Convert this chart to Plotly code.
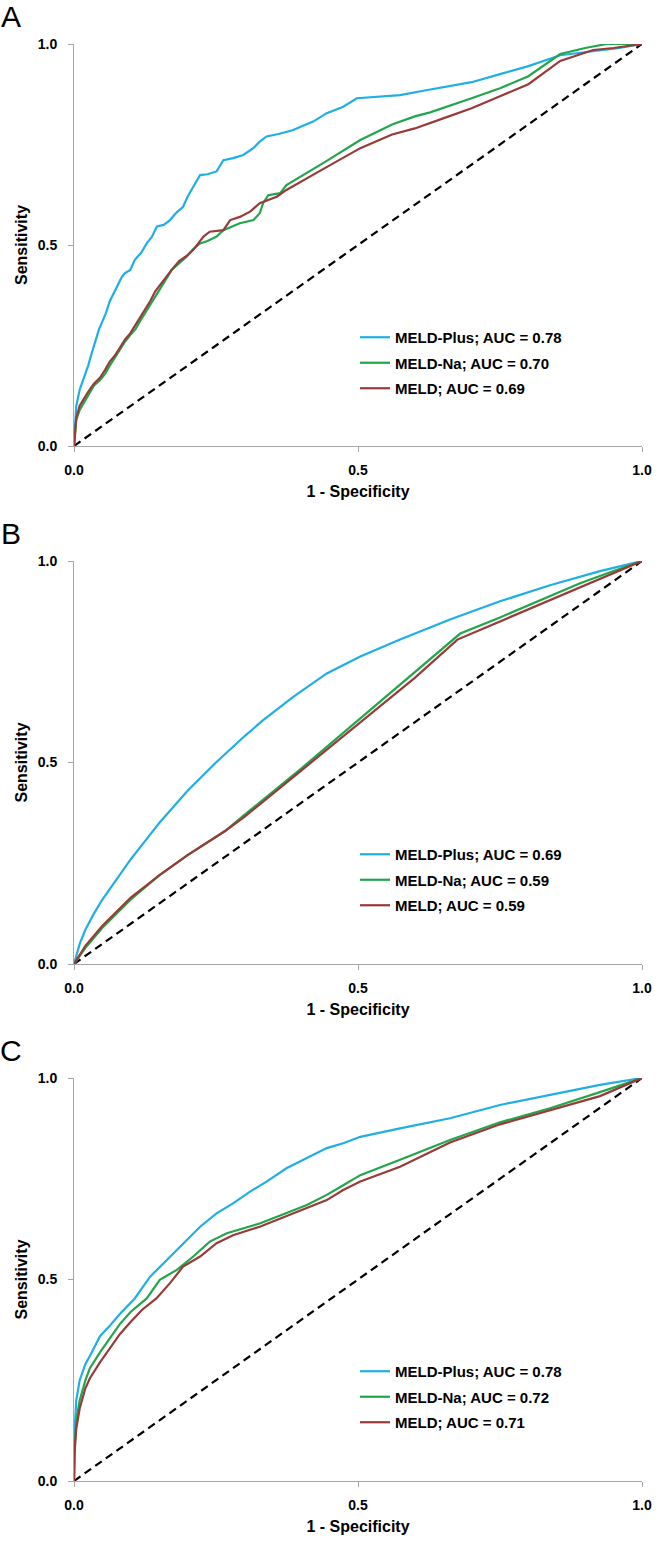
import plotly.graph_objects as go

# ---------------- data ----------------
labels = ["MELD-Plus; AUC = 0.78", "MELD-Na; AUC = 0.70", "MELD; AUC = 0.69"]
labels_b = ["MELD-Plus; AUC = 0.69", "MELD-Na; AUC = 0.59", "MELD; AUC = 0.59"]
labels_c = ["MELD-Plus; AUC = 0.78", "MELD-Na; AUC = 0.72", "MELD; AUC = 0.71"]
panel_letters = ["A", "B", "C"]
diag = [0, 1]
tick_vals = [0, 0.5, 1]
tick_text = ["0.0", "0.5", "1.0"]

# Panel A
a_plus_x = [0, 0.002, 0.004, 0.01, 0.018, 0.025, 0.031, 0.037, 0.044, 0.05, 0.056, 0.063, 0.07, 0.077, 0.084,
            0.09, 0.099, 0.107, 0.118, 0.128, 0.137, 0.146, 0.158, 0.169, 0.18, 0.192, 0.2, 0.21, 0.222,
            0.235, 0.251, 0.263, 0.28, 0.298, 0.315, 0.327, 0.339, 0.36, 0.386, 0.4, 0.421, 0.445, 0.474,
            0.498, 0.53, 0.574, 0.62, 0.662, 0.7, 0.75, 0.8, 0.856, 0.914, 0.96, 1]
a_plus_y = [0, 0.06, 0.10, 0.14, 0.17, 0.20, 0.23, 0.26, 0.29, 0.31, 0.33, 0.36, 0.38, 0.40, 0.42,
            0.43, 0.438, 0.463, 0.48, 0.504, 0.52, 0.546, 0.55, 0.562, 0.58, 0.595, 0.62, 0.645, 0.674,
            0.676, 0.683, 0.711, 0.716, 0.724, 0.74, 0.757, 0.77, 0.776, 0.786, 0.795, 0.807, 0.828, 0.844,
            0.865, 0.868, 0.873, 0.885, 0.895, 0.905, 0.925, 0.945, 0.972, 0.982, 0.99, 1]
a_na_x = [0, 0.002, 0.004, 0.01, 0.018, 0.025, 0.035, 0.046, 0.055, 0.063, 0.072, 0.081, 0.09, 0.099, 0.108,
          0.116, 0.125, 0.134, 0.143, 0.151, 0.16, 0.172, 0.185, 0.198, 0.21, 0.222, 0.235, 0.251, 0.263,
          0.278, 0.292, 0.316, 0.327, 0.333, 0.342, 0.363, 0.374, 0.44, 0.504, 0.56, 0.6, 0.627, 0.66,
          0.7, 0.75, 0.8, 0.856, 0.9, 0.938, 1]
a_na_y = [0, 0.04, 0.065, 0.09, 0.11, 0.127, 0.15, 0.164, 0.18, 0.2, 0.22, 0.24, 0.26, 0.276, 0.29,
          0.31, 0.33, 0.35, 0.37, 0.39, 0.41, 0.438, 0.455, 0.471, 0.49, 0.504, 0.51, 0.521, 0.537,
          0.545, 0.554, 0.562, 0.579, 0.604, 0.624, 0.629, 0.649, 0.705, 0.761, 0.8, 0.82, 0.83, 0.845,
          0.865, 0.89, 0.92, 0.975, 0.99, 1.0, 1]
a_meld_x = [0, 0.002, 0.004, 0.01, 0.018, 0.025, 0.035, 0.046, 0.055, 0.063, 0.072, 0.081, 0.09, 0.099,
            0.108, 0.116, 0.125, 0.134, 0.143, 0.151, 0.16, 0.172, 0.185, 0.2, 0.21, 0.228, 0.239, 0.263,
            0.275, 0.292, 0.31, 0.327, 0.357, 0.374, 0.44, 0.504, 0.56, 0.6, 0.65, 0.7, 0.75, 0.8, 0.856,
            0.914, 0.95, 0.979, 1]
a_meld_y = [0, 0.05, 0.07, 0.10, 0.12, 0.135, 0.155, 0.17, 0.19, 0.21, 0.225, 0.245, 0.265, 0.28,
            0.3, 0.32, 0.34, 0.36, 0.385, 0.4, 0.415, 0.438, 0.46, 0.475, 0.488, 0.521, 0.533, 0.537,
            0.562, 0.57, 0.583, 0.604, 0.62, 0.637, 0.69, 0.741, 0.775, 0.79, 0.815, 0.84, 0.87, 0.9, 0.958,
            0.985, 0.99, 0.995, 1]

# Panel B
b_plus_x = [0, 0.01, 0.02, 0.035, 0.05, 0.075, 0.1, 0.125, 0.15, 0.2, 0.25, 0.3, 0.333, 0.386, 0.445,
            0.504, 0.574, 0.662, 0.75, 0.838, 0.926, 1]
b_plus_y = [0, 0.05, 0.085, 0.125, 0.16, 0.21, 0.26, 0.305, 0.35, 0.43, 0.5, 0.565, 0.605, 0.663, 0.721,
            0.763, 0.805, 0.855, 0.9, 0.94, 0.975, 1]
b_na_x = [0, 0.02, 0.05, 0.1, 0.15, 0.2, 0.266, 0.3, 0.4, 0.5, 0.6, 0.68, 0.75, 0.8, 0.891, 0.95, 1]
b_na_y = [0, 0.04, 0.09, 0.16, 0.22, 0.27, 0.33, 0.37, 0.485, 0.605, 0.725, 0.82, 0.86, 0.89, 0.945, 0.975, 1]
b_meld_x = [0, 0.02, 0.05, 0.1, 0.15, 0.2, 0.266, 0.3, 0.4, 0.5, 0.6, 0.675, 0.75, 0.8, 0.891, 0.95, 1]
b_meld_y = [0, 0.045, 0.095, 0.165, 0.22, 0.27, 0.33, 0.365, 0.48, 0.595, 0.71, 0.805, 0.85, 0.88, 0.935, 0.97, 1]

# Panel C
c_plus_x = [0, 0.001, 0.004, 0.01, 0.02, 0.028, 0.046, 0.063, 0.081, 0.095, 0.107, 0.134, 0.163, 0.198,
            0.222, 0.251, 0.28, 0.31, 0.339, 0.374, 0.41, 0.445, 0.474, 0.504, 0.574, 0.662, 0.75, 0.838,
            0.926, 1]
c_plus_y = [0, 0.12, 0.2, 0.25, 0.29, 0.31, 0.36, 0.385, 0.415, 0.435, 0.453, 0.507, 0.548, 0.598,
            0.631, 0.664, 0.689, 0.718, 0.743, 0.776, 0.801, 0.826, 0.838, 0.854, 0.875, 0.9, 0.933, 0.958,
            0.983, 1]
c_na_x = [0, 0.001, 0.004, 0.01, 0.02, 0.028, 0.046, 0.063, 0.081, 0.1, 0.128, 0.151, 0.181, 0.21, 0.239,
          0.269, 0.327, 0.41, 0.445, 0.474, 0.504, 0.574, 0.662, 0.75, 0.838, 0.926, 1]
c_na_y = [0, 0.08, 0.15, 0.2, 0.25, 0.28, 0.32, 0.355, 0.39, 0.42, 0.453, 0.499, 0.524, 0.557, 0.594,
          0.615, 0.639, 0.685, 0.71, 0.734, 0.759, 0.797, 0.846, 0.89, 0.925, 0.965, 1]
c_meld_x = [0, 0.001, 0.004, 0.01, 0.02, 0.028, 0.046, 0.063, 0.081, 0.1, 0.12, 0.145, 0.169, 0.192, 0.222,
            0.251, 0.28, 0.327, 0.41, 0.445, 0.474, 0.504, 0.574, 0.662, 0.75, 0.838, 0.926, 1]
c_meld_y = [0, 0.07, 0.13, 0.18, 0.23, 0.255, 0.295, 0.33, 0.365, 0.395, 0.425, 0.453, 0.491, 0.532, 0.557,
            0.59, 0.61, 0.631, 0.677, 0.697, 0.722, 0.743, 0.78, 0.84, 0.885, 0.92, 0.955, 1]

# ---------------- styling ----------------
W, H = 662, 1543
ML, MR, MT, MB = 74, 20, 44, 62
PH = H - MT - MB
FONT = "Liberation Sans, Arial, sans-serif"
colors = ["#1FAEE6", "#21A64B", "#983A38"]
panels_px = [(44, 446), (561, 964), (1078, 1481)]


def py(ypx):
    return (H - MB - ypx) / PH


def pxx(xpx):
    return (xpx - ML) / (W - ML - MR)


fig = go.Figure()
series = [
    (labels, [(a_plus_x, a_plus_y), (a_na_x, a_na_y), (a_meld_x, a_meld_y)]),
    (labels_b, [(b_plus_x, b_plus_y), (b_na_x, b_na_y), (b_meld_x, b_meld_y)]),
    (labels_c, [(c_plus_x, c_plus_y), (c_na_x, c_na_y), (c_meld_x, c_meld_y)]),
]

layout_axes = {}
for i, (labs, curves) in enumerate(series):
    n = "" if i == 0 else str(i + 1)
    xa, ya = "x" + n, "y" + n
    leg = "legend" + n
    fig.add_trace(go.Scatter(x=diag, y=diag, mode="lines", xaxis=xa, yaxis=ya, showlegend=False,
                             line=dict(color="black", width=2.2, dash="8px,5px"), hoverinfo="skip"))
    for j, ((xs, ys), lab) in enumerate(zip(curves, labs)):
        fig.add_trace(go.Scatter(x=xs, y=ys, mode="lines", name=lab, xaxis=xa, yaxis=ya,
                                 legend=leg, legendgroup=f"g{i}{j}",
                                 line=dict(color=colors[j], width=2.2)))
    top, bot = panels_px[i]
    axfont = dict(family=FONT, size=14, color="black", weight="bold")
    layout_axes["xaxis" + n] = dict(
        domain=[0, 1], anchor=ya, range=[0, 1], tickvals=tick_vals, ticktext=tick_text,
        showgrid=False, zeroline=False, showline=True, linecolor="#A6A6A6", linewidth=1,
        ticks="outside", ticklen=5, tickcolor="#A6A6A6", tickfont=axfont, ticklabelstandoff=6,
        title=dict(text="1 - Specificity", font=dict(family=FONT, size=16, color="black", weight="bold"),
                   standoff=9))
    layout_axes["yaxis" + n] = dict(
        domain=[py(bot), py(top)], anchor=xa, range=[0, 1], tickvals=tick_vals, ticktext=tick_text,
        showgrid=False, zeroline=False, showline=True, linecolor="#A6A6A6", linewidth=1,
        ticks="outside", ticklen=5, tickcolor="#A6A6A6", tickfont=axfont, ticklabelstandoff=8,
        title=dict(text="Sensitivity", font=dict(family=FONT, size=16, color="black", weight="bold"),
                   standoff=6))
    layout_axes[leg] = dict(
        x=pxx(355), y=py(top + 277), xanchor="left", yanchor="top",
        bgcolor="rgba(0,0,0,0)", borderwidth=0, traceorder="grouped", tracegroupgap=3,
        font=dict(family=FONT, size=15, color="black", weight="bold"))

annotations = []
for i, letter in enumerate(panel_letters):
    top, bot = panels_px[i]
    annotations.append(dict(text=letter, x=pxx(11), y=py(top - 28), xref="paper", yref="paper",
                            xanchor="center", yanchor="middle", showarrow=False,
                            font=dict(family=FONT, size=30, color="black")))

fig.update_layout(
    width=W, height=H, margin=dict(l=ML, r=MR, t=MT, b=MB, autoexpand=False),
    paper_bgcolor="white", plot_bgcolor="white", annotations=annotations, **layout_axes)

fig.write_html("out.html", config={"displayModeBar": False},
               post_script="document.body.style.margin='0';")
